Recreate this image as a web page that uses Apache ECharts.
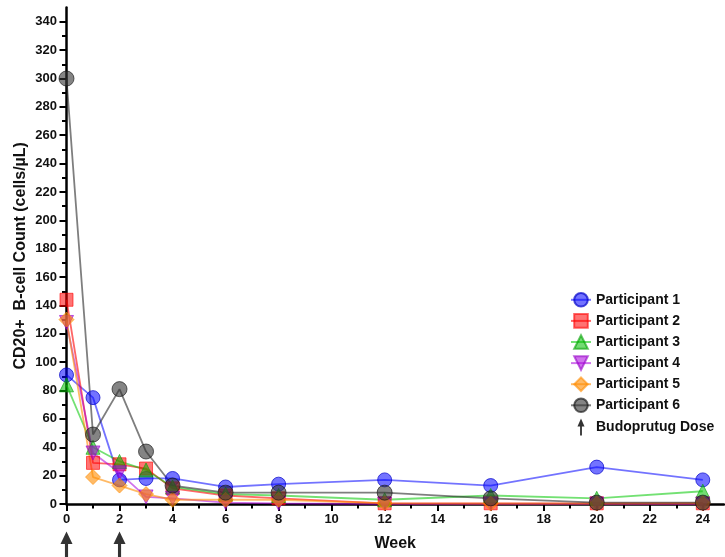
<!DOCTYPE html>
<html>
<head>
<meta charset="utf-8">
<script src="https://cdn.jsdelivr.net/npm/echarts@6/dist/echarts.min.js"></script>
<style>html,body{margin:0;padding:0;background:#fff}#c{width:725px;height:557px}</style>
</head>
<body>
<div id="c"></div>
<script>
const weeks = [0, 1, 2, 3, 4, 6, 8, 12, 16, 20, 24];
const participant1 = [91, 75, 17, 18, 18, 12, 14, 17, 13, 26, 17];
const participant2 = [144, 29, 28, 25, 11, 6, 4, 0.5, 0.5, 0.5, 0.5];
const participant3 = [84, 40, 30, 24, 12, 7, 6, 3, 6, 4, 9];
const participant4 = [128, 36, 22, 5, 4, 1, 0.5, 0, 0, 0, 0];
const participant5 = [130, 19, 13, 7, 3, 3, 3, 0.5, 0.3, 0.3, 0.5];
const participant6 = [300, 49, 81, 37, 13, 8, 8, 8, 4, 1, 1];
const doseWeeks = [0, 2];
const xMajorTicks = [0, 2, 4, 6, 8, 10, 12, 14, 16, 18, 20, 22, 24];
const xMinorTicks = [1, 3, 5, 7, 9, 11, 13, 15, 17, 19, 21, 23];
const yMajorTicks = [0, 20, 40, 60, 80, 100, 120, 140, 160, 180, 200, 220, 240, 260, 280, 300, 320, 340];
const yMinorTicks = [10, 30, 50, 70, 90, 110, 130, 150, 170, 190, 210, 230, 250, 270, 290, 310, 330];

const FONT = '"Liberation Sans", Arial, Helvetica, sans-serif';
const ARROW = 'path://M5,0 L10,11 L6.3,11 L6.3,24 L3.7,24 L3.7,11 L0,11 Z';

const defs = [
  {name: 'Participant 1', data: participant1, symbol: 'circle', size: 14, fill: 'rgba(0,0,255,0.55)', border: 'rgba(0,0,200,0.7)', line: 'rgba(0,0,255,0.55)'},
  {name: 'Participant 2', data: participant2, symbol: 'rect', size: 13, fill: 'rgba(255,0,0,0.55)', border: 'rgba(255,0,0,0.6)', line: 'rgba(255,0,0,0.6)'},
  {name: 'Participant 3', data: participant3, symbol: 'triangle', size: 14, fill: 'rgba(0,190,0,0.55)', border: 'rgba(0,160,0,0.6)', line: 'rgba(0,200,0,0.55)'},
  {name: 'Participant 4', data: participant4, symbol: 'triangle', rotate: 180, size: 14, fill: 'rgba(170,0,220,0.55)', border: 'rgba(150,0,200,0.6)', line: 'rgba(170,0,220,0.55)'},
  {name: 'Participant 5', data: participant5, symbol: 'diamond', size: 15, fill: 'rgba(255,140,0,0.6)', border: 'rgba(255,140,0,0.6)', line: 'rgba(255,140,0,0.6)'},
  {name: 'Participant 6', data: participant6, symbol: 'circle', size: 15, fill: 'rgba(50,50,50,0.6)', border: 'rgba(20,20,20,0.65)', line: 'rgba(40,40,40,0.6)'}
];

const series = defs.map(d => ({
  type: 'line',
  name: d.name,
  data: weeks.map((w, i) => [w, d.data[i]]),
  symbol: d.symbol,
  symbolRotate: d.rotate || 0,
  symbolSize: d.size,
  showSymbol: true,
  clip: false,
  lineStyle: {color: d.line, width: 1.8},
  itemStyle: {color: d.fill, borderColor: d.border, borderWidth: 1},
  emphasis: {disabled: true}
}));

series.push({
  type: 'scatter',
  name: 'Budoprutug Dose',
  data: doseWeeks.map(w => [w, 0]),
  symbol: ARROW,
  symbolSize: [12, 27],
  symbolOffset: [0, 41],
  clip: false,
  itemStyle: {color: '#000'},
  emphasis: {disabled: true}
});

const axisLineStyle = {color: '#000', width: 2.5};

const option = {
  animation: false,
  backgroundColor: '#fff',
  grid: {left: 66.5, right: 1, top: 7.6, bottom: 50, containLabel: false},
  legend: {
    orient: 'vertical',
    left: 565,
    top: 287,
    itemWidth: 20,
    itemHeight: 17,
    itemGap: 5.5,
    selectedMode: false,
    textStyle: {fontFamily: FONT, fontWeight: 'bold', fontSize: 14, color: '#111'},
    data: defs.map(d => d.name).concat(['Budoprutug Dose'])
  },
  xAxis: [
    {
      type: 'value', min: 0, max: 24.8, interval: 1,
      name: 'Week', nameLocation: 'middle', nameGap: 32, nameMoveOverlap: false,
      nameTextStyle: {fontFamily: FONT, fontWeight: 'bold', fontSize: 16, color: '#111'},
      axisLine: {show: true, onZero: false, lineStyle: axisLineStyle},
      axisTick: {show: true, length: 7, customValues: xMajorTicks, lineStyle: {color: '#000', width: 2}},
      axisLabel: {customValues: xMajorTicks, margin: 9, fontFamily: FONT, fontWeight: 'bold', fontSize: 13, color: '#111'},
      splitLine: {show: false}
    },
    {
      type: 'value', min: 0, max: 24.8, interval: 1, position: 'bottom',
      axisLine: {show: false},
      axisTick: {show: true, length: 4.5, customValues: xMinorTicks, lineStyle: {color: '#000', width: 2}},
      axisLabel: {show: false},
      splitLine: {show: false}
    }
  ],
  yAxis: [
    {
      type: 'value', min: 0, max: 350, interval: 10,
      name: 'CD20+  B-cell Count (cells/µL)', nameLocation: 'middle', nameGap: 38, nameMoveOverlap: false,
      nameTextStyle: {fontFamily: FONT, fontWeight: 'bold', fontSize: 16, color: '#111'},
      axisLine: {show: true, onZero: false, lineStyle: axisLineStyle},
      axisTick: {show: true, length: 7, customValues: yMajorTicks, lineStyle: {color: '#000', width: 2}},
      axisLabel: {customValues: yMajorTicks, margin: 9.5, fontFamily: FONT, fontWeight: 'bold', fontSize: 13, color: '#111'},
      splitLine: {show: false}
    },
    {
      type: 'value', min: 0, max: 350, interval: 10, position: 'left',
      axisLine: {show: false},
      axisTick: {show: true, length: 4.5, customValues: yMinorTicks, lineStyle: {color: '#000', width: 2}},
      axisLabel: {show: false},
      splitLine: {show: false}
    }
  ],
  series: series
};

echarts.init(document.getElementById('c'), null, {renderer: 'canvas'}).setOption(option);
</script>
</body>
</html>
